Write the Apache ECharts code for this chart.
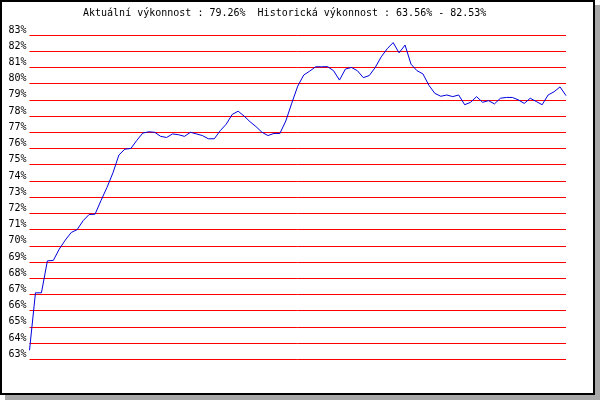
<!DOCTYPE html>
<html>
<head>
<meta charset="utf-8">
<script src="https://cdn.jsdelivr.net/npm/echarts@6/dist/echarts.min.js"></script>
<style>
html,body{margin:0;padding:0;background:#fff;}
#chart{width:600px;height:400px;}
</style>
</head>
<body>
<div id="chart"></div>
<script>
var titleText = 'Aktuální výkonnost : 79.26%  Historická výkonnost : 63.56% - 82.53%';
var yMin = 63;
var yMax = 83;
var values = [
  63.56, 67.1, 67.1, 69.07, 69.1, 69.8, 70.35, 70.82, 71.0, 71.55,
  71.93, 71.95, 72.8, 73.6, 74.5, 75.6, 75.96, 76.0, 76.5, 76.95,
  77.03, 77.0, 76.75, 76.68, 76.9, 76.85, 76.75, 77.0, 76.9, 76.8,
  76.6, 76.6, 77.1, 77.5, 78.1, 78.3, 78.0, 77.65, 77.35, 77.0,
  76.8, 76.93, 76.93, 77.7, 78.8, 79.85, 80.53, 80.77, 81.04, 81.04,
  81.05, 80.8, 80.22, 80.9, 81.0, 80.8, 80.37, 80.5, 81.0, 81.65,
  82.15, 82.53, 81.9, 82.38, 81.2, 80.8, 80.6, 79.9, 79.4, 79.22,
  79.3, 79.2, 79.3, 78.7, 78.85, 79.2, 78.85, 78.95, 78.75, 79.1,
  79.15, 79.15, 79.0, 78.78, 79.1, 78.9, 78.7, 79.3, 79.5, 79.8,
  79.26
];
var categories = values.map(function (v, i) { return String(i + 1); });

var chart = echarts.init(document.getElementById('chart'), null, {renderer: 'canvas'});
var font = 'DejaVu Sans Mono';
chart.setOption({
  animation: false,
  backgroundColor: 'transparent',
  title: {
    text: titleText,
    left: 83,
    top: 8,
    padding: 0,
    textStyle: {fontFamily: font, fontSize: 10, fontWeight: 'normal', color: '#000'}
  },
  graphic: [
    {type: 'rect', z: -100, shape: {x: 5, y: 5, width: 595, height: 395}, style: {fill: '#a8a8a8'}},
    {type: 'rect', z: -99, shape: {x: 1, y: 1, width: 593, height: 393}, style: {fill: '#fff', stroke: '#000', lineWidth: 2}}
  ],
  grid: {left: 29.5, right: 34, top: 35, height: 324.3, containLabel: false},
  xAxis: {
    type: 'category',
    data: categories,
    boundaryGap: false,
    show: false
  },
  yAxis: {
    type: 'value',
    min: yMin,
    max: yMax,
    interval: 1,
    axisLine: {show: false},
    axisTick: {show: false},
    splitLine: {show: true, lineStyle: {color: '#ff0000', width: 1}},
    axisLabel: {
      formatter: '{value}%',
      fontFamily: font,
      fontSize: 10,
      color: '#000',
      margin: 3,
      verticalAlign: 'bottom',
      lineHeight: 10
    }
  },
  series: [{
    type: 'line',
    data: values,
    showSymbol: false,
    symbol: 'none',
    lineStyle: {color: '#0000dd', width: 1},
    z: 3
  }]
});
</script>
</body>
</html>
